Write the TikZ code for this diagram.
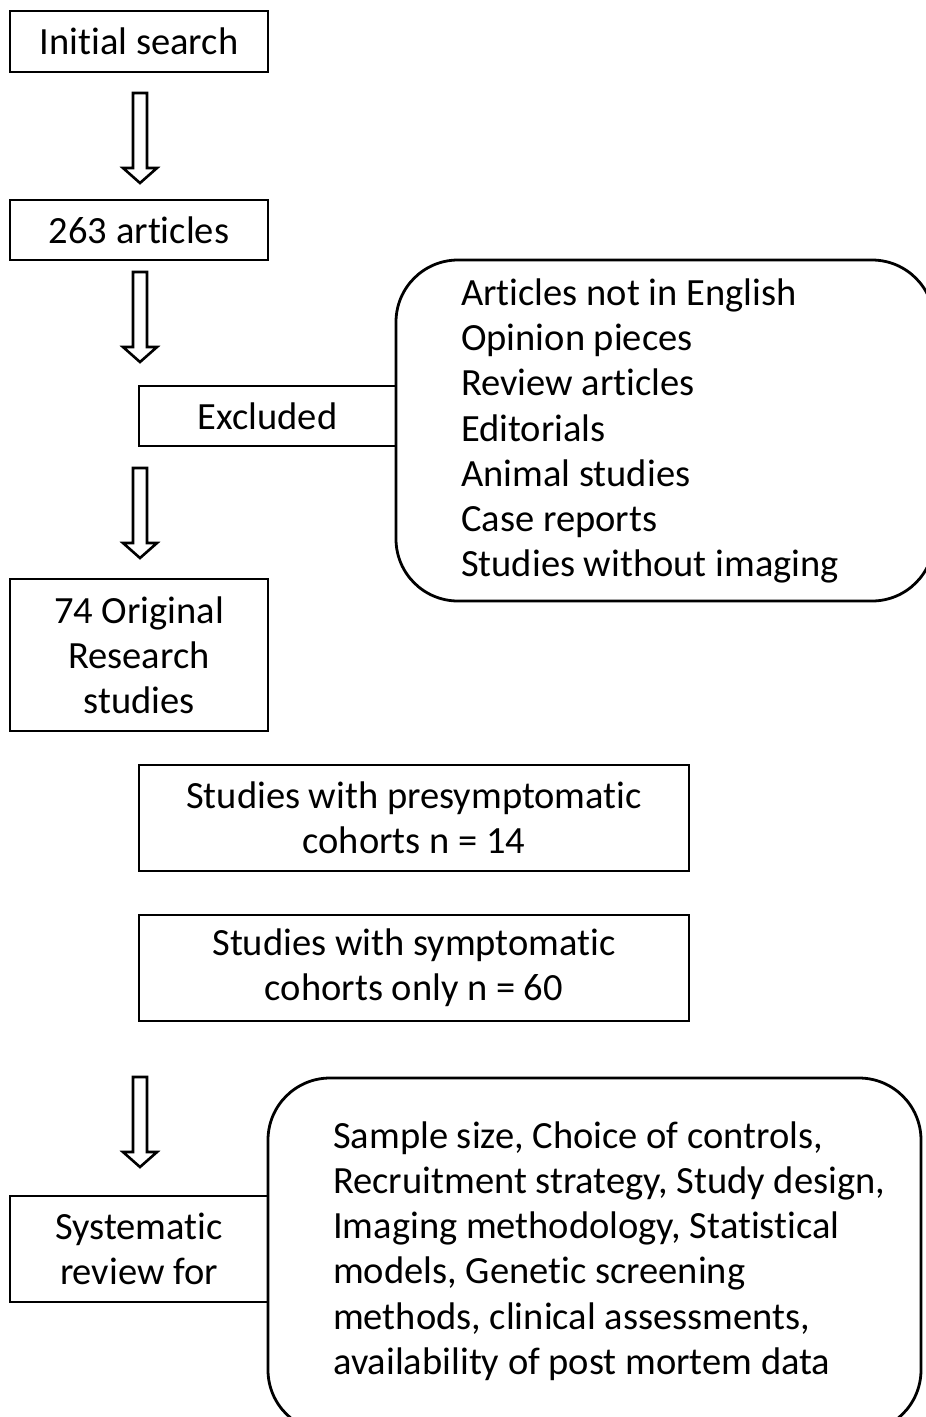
\documentclass[tikz,border=0pt]{standalone}
\usepackage{fontspec}
\setmainfont[Ligatures=NoCommon]{Carlito}
\usetikzlibrary{calc}
\begin{document}
\begin{tikzpicture}[x=1pt,y=-1pt,
  every node/.style={font=\fontsize{38.5}{45.2}\selectfont, inner sep=0pt},
  box/.style={draw, line width=2.8pt, align=center},
  rbox/.style={draw, line width=2.8pt, rounded corners=62pt},
  listtext/.style={anchor=west, align=left},
  blockarrow/.pic={\draw[line width=2.6pt, line join=miter]
     (-7,0) -- (7,0) -- (7,75) -- (17,75) -- (0,90) -- (-17,75) -- (-7,75) -- cycle;}
]
\useasboundingbox (0,0) rectangle (926,1417);
\begin{scope}
\clip (0,0) rectangle (926,1417);
% main column
\node[box, minimum width=258, minimum height=61] (init) at (139,41.5) {Initial search};
\node[box, minimum width=258, minimum height=60] (art) at (139,230) {263 articles};
\node[box, minimum width=257, minimum height=60] (excl) at (267.5,416) {Excluded};
\node[rbox, minimum width=538, minimum height=341] (exlist) at (665,430.5) {};
\node[listtext] (extext) at (461,431) {Articles not in English\\Opinion pieces\\Review articles\\Editorials\\Animal studies\\Case reports\\Studies without imaging};
\node[box, minimum width=258, minimum height=152] (orig) at (139,655) {74 Original\\Research\\studies};
\node[box, minimum width=550, minimum height=106] (pre) at (414,818) {Studies with presymptomatic\\cohorts n = 14};
\node[box, minimum width=550, minimum height=106] (sym) at (414,968) {Studies with symptomatic\\cohorts only n = 60};
\node[box, minimum width=258, minimum height=106] (sys) at (139,1249) {Systematic\\review for};
\node[rbox, minimum width=653, minimum height=354] (crit) at (594.5,1255) {};
\node[listtext] (crittext) at (333,1251) {Sample size, Choice of controls,\\Recruitment strategy, Study design,\\Imaging methodology, Statistical\\models, Genetic screening\\methods, clinical assessments,\\availability of post mortem data};
% block arrows
\pic at (140,93) {blockarrow};
\pic at (140,272) {blockarrow};
\pic at (140,468) {blockarrow};
\pic at (140,1077) {blockarrow};
\end{scope}
\end{tikzpicture}
\end{document}
